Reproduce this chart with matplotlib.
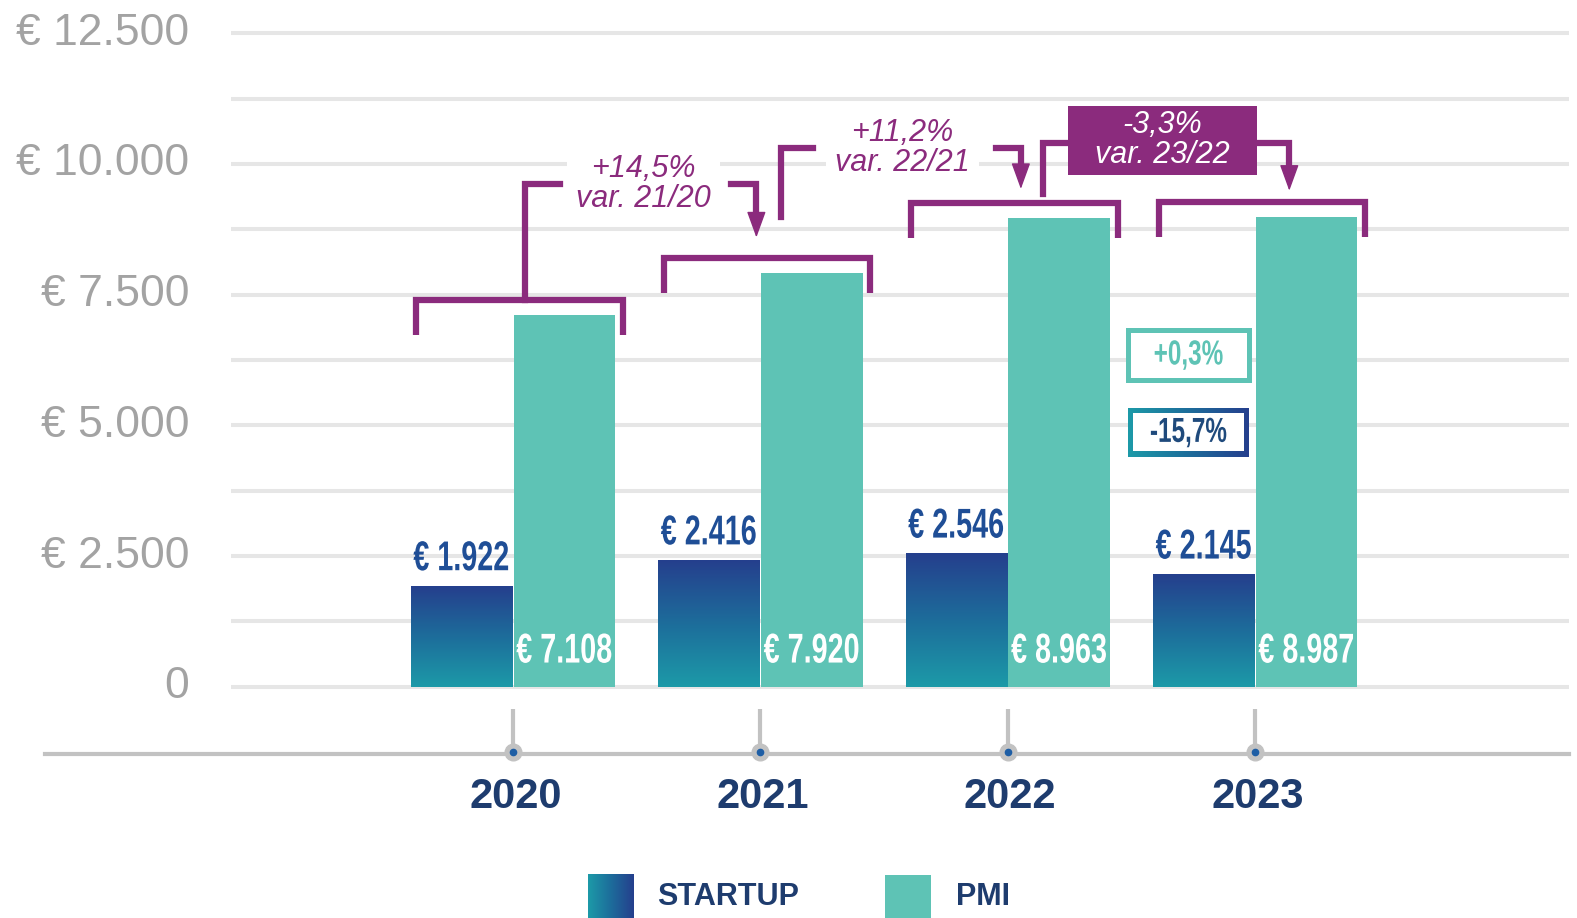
import numpy as np
import matplotlib
matplotlib.use('Agg')
import matplotlib.pyplot as plt
from matplotlib import patheffects
from matplotlib.colors import LinearSegmentedColormap
from matplotlib.patches import Rectangle
from matplotlib.path import Path
from matplotlib.transforms import Affine2D

# --- Data ---
years = ['2020', '2021', '2022', '2023']
series_names = ['STARTUP', 'PMI']
startup = [1922, 2416, 2546, 2145]
pmi = [7108, 7920, 8963, 8987]
var_labels = ['+14,5%\nvar. 21/20', '+11,2%\nvar. 22/21', '-3,3%\nvar. 23/22']
pmi_var_last = '+0,3%'
startup_var_last = '-15,7%'
y_ticks = [0, 2500, 5000, 7500, 10000, 12500]
y_ticklabels = ['0', '€ 2.500', '€ 5.000', '€ 7.500', '€ 10.000', '€ 12.500']

# --- Style ---
PURPLE = '#8b2b7d'
TEAL = '#5ec3b5'
NAVY = '#1e3c6e'
BLUE_LBL = '#1f4e96'
GRID = '#e6e6e6'
AXIS_GRAY = '#c2c2c2'

plt.rcParams['font.family'] = ['Liberation Sans', 'DejaVu Sans']

K = 12500 / 650   # value units per pixel (vertical)
XP = 1 / 246      # category units per pixel (horizontal)

grad_cmap = LinearSegmentedColormap.from_list('startup', ['#1c9aa8', '#1d6d9b', '#253f8d'])
grad_v = np.linspace(0, 1, 256).reshape(-1, 1)
grad_h = np.linspace(0, 1, 256).reshape(1, -1)


class Squeeze(patheffects.AbstractPathEffect):
    """Narrows text horizontally around its centre (condensed look)."""

    def __init__(self, sx):
        super().__init__()
        self.sx = sx

    def draw_path(self, renderer, gc, tpath, affine, rgbFace=None):
        v = tpath.vertices
        if tpath.codes is not None:
            v = v[tpath.codes != Path.CLOSEPOLY]
        cx = (v[:, 0].min() + v[:, 0].max()) / 2
        t = Affine2D().translate(-cx, 0).scale(self.sx, 1).translate(cx, 0) + affine
        renderer.draw_path(gc, tpath, t, rgbFace)


def fmt(v):
    return '€ ' + f'{v:,}'.replace(',', '.')


fig = plt.figure(figsize=(15.77, 9.18), dpi=100)
ax = fig.add_axes([0, 0, 1, 1])
ax.axis('off')

x = np.arange(len(years))
w = 0.41
off = 0.208
narrow = [Squeeze(0.69)]

# --- Grid and y labels ---
ax.hlines(np.arange(0, 12501, 1250), -280 * XP, 1050 * XP, color=GRID, lw=2.9, zorder=0)
for v, lab in zip(y_ticks, y_ticklabels):
    ax.text(-322 * XP, v, lab, ha='right', va='center', fontsize=32, color='#a3a3a3')

# --- Bars ---
bars_s = ax.bar(x - off, startup, w, color='none', zorder=2)
for b in bars_s:
    ax.imshow(grad_v, extent=[b.get_x(), b.get_x() + b.get_width(), 0, b.get_height()],
              origin='lower', aspect='auto', cmap=grad_cmap, zorder=2)
ax.bar(x + off, pmi, w, color=TEAL, zorder=2)

for i in range(len(years)):
    ax.text(x[i] - off, startup[i] + 7 * K, fmt(startup[i]), ha='center', va='bottom',
            color=BLUE_LBL, fontsize=30, fontweight='bold', path_effects=narrow, zorder=4)
    ax.text(x[i] + off, 35 * K, fmt(pmi[i]), ha='center', va='center',
            color='white', fontsize=30, fontweight='bold', path_effects=narrow, zorder=4)

# --- Brackets above each group ---
yb = np.array(pmi) + 15 * K
for i in range(len(years)):
    ax.plot([i - 0.39, i - 0.39, i + 0.445, i + 0.445],
            [yb[i] - 35 * K, yb[i], yb[i], yb[i] - 35 * K],
            color=PURPLE, lw=4.5, solid_joinstyle='miter', solid_capstyle='butt', zorder=3)


def seg(xs, ys):
    ax.plot(xs, ys, color=PURPLE, lw=4.5, solid_joinstyle='miter', solid_capstyle='projecting', zorder=3)


def head(xp, tip):
    ax.annotate('', xy=(xp, tip), xytext=(xp, tip + 23 * K),
                arrowprops=dict(arrowstyle='-|>,head_length=0.55,head_width=0.2', mutation_scale=30,
                                lw=1, color=PURPLE, shrinkA=0, shrinkB=0), zorder=3)


txt_kw = dict(ha='center', va='center', fontsize=22, style='italic', linespacing=1.0, zorder=4)

# var. 21/20
yc1 = yb[0] + 115 * K
tip1 = yb[1] + 20 * K
seg([0.05, 0.05, 0.19], [yb[0], yc1, yc1])
seg([0.882, 0.984, 0.984], [yc1, yc1, tip1 + 20 * K])
head(0.984, tip1)
ax.text(0.528, yc1, var_labels[0], color=PURPLE,
        bbox=dict(boxstyle='square,pad=0.3', fc='white', ec='none'), **txt_kw)

# var. 22/21
yc2 = yb[2] + 55 * K
tip2 = yb[2] + 14 * K
seg([1.085, 1.085, 1.211], [yb[1] + 40 * K, yc2, yc2])
seg([1.951, 2.053, 2.053], [yc2, yc2, tip2 + 20 * K])
head(2.053, tip2)
ax.text(1.573, yc2, var_labels[1], color=PURPLE,
        bbox=dict(boxstyle='square,pad=0.3', fc='white', ec='none'), **txt_kw)

# var. 23/22
yc3 = yb[3] + 58 * K
tip3 = yb[3] + 11 * K
seg([2.142, 2.142, 2.244], [yb[2] + 9 * K, yc3, yc3])
seg([3.008, 3.138, 3.138], [yc3, yc3, tip3 + 20 * K])
head(3.138, tip3)
ax.add_patch(Rectangle((2.244, yc3 - 31 * K), 3.008 - 2.244, 68 * K, fc=PURPLE, ec='none', zorder=3))
ax.text(2.626, yc3 + 3 * K, var_labels[2], color='white', **txt_kw)

# --- Small variation boxes ---
bx, bw = 2.73, 0.488
ax.add_patch(Rectangle((bx - bw / 2, 6346 - 25 * K), bw, 50 * K, fc='white', ec=TEAL, lw=3.6, zorder=3))
ax.text(bx, 6346, pmi_var_last, ha='center', va='center', color=TEAL, fontsize=25,
        fontweight='bold', path_effects=[Squeeze(0.7)], zorder=4)

by, bh = 4865, 48 * K
ax.imshow(grad_h, extent=[bx - bw / 2, bx + bw / 2, by - bh / 2, by + bh / 2],
          aspect='auto', cmap=grad_cmap, zorder=3)
ax.add_patch(Rectangle((bx - bw / 2 + 5 * XP, by - bh / 2 + 5 * K), bw - 10 * XP, bh - 10 * K,
                       fc='white', ec='none', zorder=3.5))
ax.text(bx, by, startup_var_last, ha='center', va='center', color='#1f4a7c', fontsize=25,
        fontweight='bold', path_effects=[Squeeze(0.7)], zorder=4)

# --- X axis with ticks ---
y_axis = -67 * K
ax.plot([-465 * XP, 1050 * XP], [y_axis, y_axis], color=AXIS_GRAY, lw=3, zorder=1)
ax.vlines(x, -65 * K, -22 * K, color=AXIS_GRAY, lw=3, zorder=1)
ax.plot(x, [-65 * K] * len(x), 'o', ms=12, color=AXIS_GRAY, zorder=2)
ax.plot(x, [-65 * K] * len(x), 'o', ms=4.5, color='#1e5ea5', zorder=3)
for i, yr in enumerate(years):
    ax.text(x[i] + 0.01, -110 * K, yr, ha='center', va='center', fontsize=30,
            fontweight='bold', color=NAVY)

# --- Legend ---
ax.imshow(grad_h, extent=[0.305, 0.488, -240 * K, -187 * K], aspect='auto', cmap=grad_cmap, zorder=2)
ax.add_patch(Rectangle((1.504, -240 * K), 0.187, 53 * K, fc=TEAL, ec='none', zorder=2))
ax.text(0.581, -209 * K, series_names[0], ha='left', va='center', fontsize=22,
        fontweight='bold', color=NAVY)
ax.text(1.789, -209 * K, series_names[1], ha='left', va='center', fontsize=22,
        fontweight='bold', color=NAVY)

# limits in the units of the 1568x913 preview the positions were measured on
ax.set_xlim(-510 * XP, 1058 * XP)
ax.set_ylim(-230 * K, 683 * K)
ax.set_aspect('auto')

fig.savefig('out.png', dpi=100)
